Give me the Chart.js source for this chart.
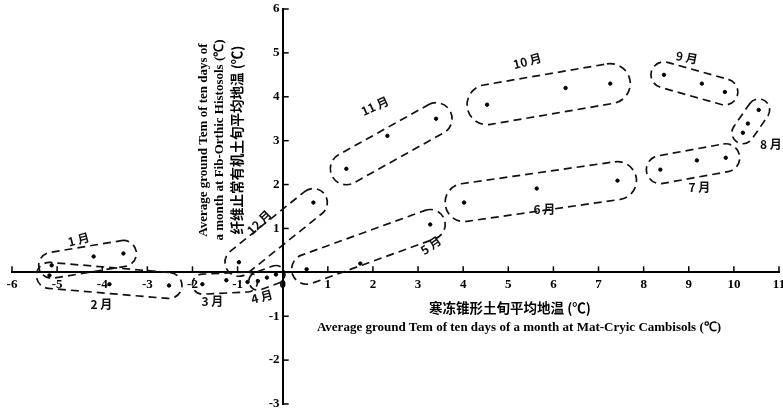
<!DOCTYPE html>
<html>
<head>
<meta charset="utf-8">
<script src="https://cdn.jsdelivr.net/npm/chart.js@4.4.1/dist/chart.umd.min.js"></script>
<style>
  html, body { margin: 0; padding: 0; background: #fff; }
  #wrap { width: 783px; height: 413px; }
</style>
</head>
<body>
<div id="wrap"><canvas id="myChart"></canvas></div>
<script>
// ten-day mean ground temperatures, one group of points per month
const months = ['1 月', '2 月', '3 月', '4 月', '5 月', '6 月', '7 月', '8 月', '9 月', '10 月', '11 月', '12 月'];
// x: Mat-Cryic Cambisols
const matCryic = [
    [-5.12, -4.19, -3.53],
    [-5.17, -3.84, -2.52],
    [-1.78, -1.25, -0.78],
    [-0.55, -0.35, -0.15],
    [0.53, 1.72, 3.27],
    [4.02, 5.63, 7.42],
    [8.37, 9.18, 9.82],
    [10.2, 10.31, 10.55],
    [8.45, 9.29, 9.8],
    [4.53, 6.27, 7.26],
    [1.41, 2.32, 3.4],
    [-0.97, 0.68]
];
// y: Fib-Orthic Histosols
const fibOrthic = [
    [0.16, 0.36, 0.43],
    [-0.07, -0.27, -0.3],
    [-0.27, -0.18, -0.22],
    [-0.2, -0.12, -0.05],
    [0.07, 0.2, 1.09],
    [1.59, 1.91, 2.09],
    [2.34, 2.55, 2.61],
    [3.18, 3.39, 3.7],
    [4.5, 4.3, 4.11],
    [3.82, 4.2, 4.3],
    [2.36, 3.11, 3.5],
    [0.23, 1.59]
];
const xTicks = [-6, -5, -4, -3, -2, -1, 0, 1, 2, 3, 4, 5, 6, 7, 8, 9, 10, 11];
const yTicks = [-3, -2, -1, 0, 1, 2, 3, 4, 5, 6];

// outline half-widths and month label placement (pixels, relative to group centre)
const outlineRadius = [13, 13, 10, 9, 15, 19, 14, 11, 13, 20, 16, 14];
const labelOffset = [[-11, -19, -15], [-8, 23, 0], [-13, 19, 0], [-5, 19, -15], [65, -7, -35], [5, 19, 0],
    [5, 25, 0], [21, 22, 0], [-10, -26, 10], [-27, -31, -15], [-15, -35, -25], [-17, -10, -45]];

const points = [];
months.forEach((m, i) => {
    matCryic[i].forEach((x, j) => points.push({ x: x, y: fibOrthic[i][j] }));
});

const serif = 'Liberation Serif';
const cjk = 'Noto Sans CJK SC';

const groupPlugin = {
    id: 'groups',
    afterDatasetsDraw(chart) {
        const ctx = chart.ctx;
        const xs = chart.scales.x, ys = chart.scales.y;
        ctx.save();
        ctx.strokeStyle = '#111';
        ctx.lineWidth = 1.7;
        ctx.setLineDash([8, 5]);
        months.forEach((m, i) => {
            const px = matCryic[i].map(v => xs.getPixelForValue(v));
            const py = fibOrthic[i].map(v => ys.getPixelForValue(v));
            const n = px.length;
            const a = Math.atan2(py[n - 1] - py[0], px[n - 1] - px[0]);
            const r = outlineRadius[i];
            ctx.beginPath();
            ctx.arc(px[n - 1], py[n - 1], r, a - Math.PI / 2, a + Math.PI / 2);
            ctx.arc(px[0], py[0], r, a + Math.PI / 2, a + 3 * Math.PI / 2);
            ctx.closePath();
            ctx.stroke();
        });
        ctx.setLineDash([]);
        ctx.fillStyle = '#111';
        ctx.textAlign = 'center';
        ctx.textBaseline = 'middle';
        ctx.font = 'bold 12px "' + cjk + '"';
        months.forEach((m, i) => {
            const px = matCryic[i].map(v => xs.getPixelForValue(v));
            const py = fibOrthic[i].map(v => ys.getPixelForValue(v));
            const cx = px.reduce((s, v) => s + v, 0) / px.length;
            const cy = py.reduce((s, v) => s + v, 0) / py.length;
            const o = labelOffset[i];
            ctx.save();
            ctx.translate(cx + o[0], cy + o[1]);
            ctx.rotate(o[2] * Math.PI / 180);
            ctx.fillText(m, 0, 0);
            ctx.restore();
        });
        ctx.restore();
    },
    afterDraw(chart) {
        const ctx = chart.ctx;
        const xs = chart.scales.x, ys = chart.scales.y;
        const x0 = xs.getPixelForValue(0), y0 = ys.getPixelForValue(0);
        ctx.save();
        ctx.strokeStyle = '#000';
        ctx.lineWidth = 1.5;
        // inward tick marks
        xTicks.forEach(v => {
            const p = xs.getPixelForValue(v);
            ctx.beginPath(); ctx.moveTo(p, y0); ctx.lineTo(p, y0 - 6); ctx.stroke();
        });
        yTicks.forEach(v => {
            const p = ys.getPixelForValue(v);
            ctx.beginPath(); ctx.moveTo(x0, p); ctx.lineTo(x0 + 6, p); ctx.stroke();
        });
        // axis titles
        ctx.fillStyle = '#000';
        ctx.textAlign = 'center';
        ctx.textBaseline = 'middle';
        ctx.font = 'bold 13.5px "' + cjk + '"';
        ctx.fillText('寒冻锥形土旬平均地温 (℃)', 510, 308);
        ctx.font = 'bold 13px "' + serif + '"';
        ctx.fillText('Average ground Tem of ten days of a month at Mat-Cryic Cambisols (℃)', 519, 328);
        ctx.save();
        ctx.translate(204, 140);
        ctx.rotate(-Math.PI / 2);
        ctx.fillText('Average ground Tem of ten days of', 0, 0);
        ctx.fillText('a month at Fib-Orthic Histosols (℃)', 0, 16);
        ctx.font = 'bold 13.5px "' + cjk + '"';
        ctx.fillText('纤维止常有机土旬平均地温 (℃)', 0, 33);
        ctx.restore();
        ctx.restore();
    }
};

new Chart(document.getElementById('myChart'), {
    type: 'scatter',
    data: {
        datasets: [{
            data: points,
            backgroundColor: '#000',
            borderColor: '#000',
            pointRadius: 1.7,
            pointHoverRadius: 1.7
        }]
    },
    options: {
        responsive: true,
        maintainAspectRatio: false,
        animation: false,
        layout: { padding: { left: 12, right: 4, top: 9, bottom: 9 } },
        plugins: { legend: { display: false }, tooltip: { enabled: false } },
        scales: {
            x: {
                type: 'linear',
                min: -6,
                max: 11,
                position: { y: 0 },
                afterBuildTicks: (s) => { s.ticks = xTicks.map(v => ({ value: v })); },
                afterFit: (s) => { s.paddingLeft = 0; s.paddingRight = 0; },
                grid: { display: false, drawTicks: false },
                border: { color: '#000', width: 2 },
                ticks: {
                    color: '#000',
                    padding: 5,
                    maxRotation: 0,
                    autoSkip: false,
                    font: { family: serif, weight: 'bold', size: 13 },
                    callback: (v) => String(v)
                }
            },
            y: {
                type: 'linear',
                min: -3,
                max: 6,
                position: { x: 0 },
                afterBuildTicks: (s) => { s.ticks = yTicks.map(v => ({ value: v })); },
                afterFit: (s) => { s.paddingTop = 0; s.paddingBottom = 0; },
                grid: { display: false, drawTicks: false },
                border: { color: '#000', width: 2 },
                ticks: {
                    color: '#000',
                    padding: 12,
                    autoSkip: false,
                    font: { family: serif, weight: 'bold', size: 13 },
                    // trailing space keeps the label clear of the axis line
                    callback: (v) => v === 0 ? '' : String(v) + ' '
                }
            }
        }
    },
    plugins: [groupPlugin]
});
</script>
</body>
</html>
